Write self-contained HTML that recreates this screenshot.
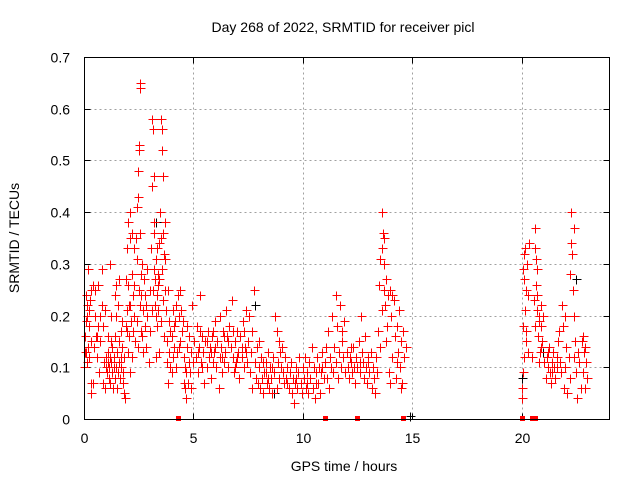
<!DOCTYPE html>
<html><head><meta charset="utf-8"><style>
html,body{margin:0;padding:0;background:#fff;}
svg{display:block;font-family:"Liberation Sans",sans-serif;}
</style></head><body>
<svg id="chart" width="640" height="480" viewBox="0 0 640 480" xmlns="http://www.w3.org/2000/svg">
<rect width="640" height="480" fill="#fff"/>
<text x="343" y="32" font-size="14" text-anchor="middle">Day 268 of 2022, SRMTID for receiver picl</text>
<text transform="translate(19,238) rotate(-90)" font-size="14" text-anchor="middle">SRMTID / TECUs</text>
<text x="344" y="471" font-size="14" text-anchor="middle">GPS time / hours</text>
<g id="grid"></g>
<g id="ticks" shape-rendering="crispEdges"></g>
<g id="black" shape-rendering="crispEdges"></g>
<g id="red" shape-rendering="crispEdges"></g>
<rect x="84.5" y="57.5" width="525" height="362" fill="none" stroke="#000" stroke-width="1" shape-rendering="crispEdges"/>
</svg>
<script>
const xTicks = [0,5,10,15,20];
const yTicks = [0,0.1,0.2,0.3,0.4,0.5,0.6,0.7];
const yTickLabels = ["0","0.1","0.2","0.3","0.4","0.5","0.6","0.7"];
const redTimes = [0.02,0.05,0.08,0.1,0.12,0.15,0.18,0.2,0.22,0.25,0.27,0.3,0.32,0.05,0.1,0.15,0.2,0.25,0.3,0.33,
0.4,0.45,0.5,0.55,0.6,0.62,0.65,0.7,0.72,0.75,0.8,0.82,0.85,0.88,0.9,0.95,0.98,0.4,0.5,0.6,
1.0,1.02,1.05,1.08,1.1,1.12,1.15,1.18,1.2,1.22,1.25,1.28,1.3,1.32,1.35,1.38,1.4,1.42,1.45,1.48,1.5,1.52,1.55,1.58,1.6,1.62,1.65,1.68,1.7,1.72,1.75,1.78,1.8,1.82,1.85,1.88,1.1,1.25,1.4,1.55,1.7,1.2,1.45,
1.9,1.92,1.95,1.98,2.0,2.02,2.05,2.08,2.1,2.12,2.15,2.18,2.2,2.22,2.25,2.28,2.3,2.32,2.0,2.1,2.2,2.3,1.95,2.05,
2.38,2.4,2.42,2.45,2.48,2.5,2.52,2.55,2.56,2.58,2.6,2.62,2.65,2.68,2.4,2.5,2.6,2.45,2.55,2.65,2.7,
2.75,2.8,2.85,2.9,2.95,3.0,3.05,3.1,3.12,3.15,3.18,3.2,3.22,3.25,3.28,3.3,3.32,3.35,3.38,3.4,3.42,3.45,3.48,3.5,3.52,3.55,3.58,3.6,3.62,3.65,3.68,3.7,3.0,3.1,3.2,3.3,3.4,3.5,3.6,3.7,2.8,2.9,3.15,3.35,3.55,3.65,3.45,3.25,2.85,
3.75,3.78,3.8,3.85,3.88,3.9,3.95,4.0,4.05,4.08,4.1,4.15,4.2,4.25,4.3,4.35,4.4,3.82,3.92,4.02,4.12,4.22,4.32,4.38,
4.45,4.5,4.55,4.58,4.6,4.62,4.65,4.68,4.7,4.75,4.78,4.8,4.85,4.9,4.95,5.0,4.52,4.72,4.88,
5.05,5.1,5.15,5.2,5.25,5.3,5.35,5.4,5.45,5.5,5.55,5.6,5.65,5.7,5.75,5.8,5.85,5.9,5.95,6.0,6.05,6.1,6.15,6.2,6.25,6.3,6.35,6.4,6.45,6.5,6.55,6.6,6.65,6.7,6.75,6.8,6.85,6.9,6.95,7.0,7.05,7.1,7.15,7.2,7.25,7.3,7.35,7.4,7.45,7.5,5.2,5.4,5.6,5.8,6.0,6.2,6.4,6.6,6.8,7.0,7.2,7.4,5.3,5.9,6.3,6.9,7.3,
7.55,7.6,7.65,7.7,7.75,7.8,7.85,7.9,7.95,8.0,8.05,8.1,8.15,8.2,8.25,8.3,8.35,8.4,8.45,8.5,8.55,8.6,8.65,8.7,8.75,8.8,8.85,8.9,8.95,9.0,7.7,8.0,8.3,8.6,8.9,8.2,8.4,8.8,
9.05,9.1,9.15,9.2,9.25,9.3,9.35,9.4,9.45,9.5,9.55,9.6,9.65,9.7,9.75,9.8,9.85,9.9,9.95,10.0,10.05,10.1,10.15,10.2,10.25,10.3,10.35,10.4,10.45,10.5,10.55,10.6,10.65,10.7,10.75,10.8,10.85,10.9,10.95,11.0,9.3,9.7,10.2,10.6,10.9,
11.05,11.1,11.15,11.2,11.25,11.3,11.35,11.4,11.45,11.5,11.55,11.6,11.65,11.7,11.75,11.8,11.85,11.9,11.95,12.0,12.05,12.1,12.15,12.2,12.25,12.3,12.35,12.4,12.45,12.5,12.55,12.6,12.65,12.7,12.75,12.8,12.85,12.9,12.95,13.0,13.05,13.1,13.15,13.2,13.25,13.3,13.35,13.4,11.5,11.8,12.2,12.6,13.0,
13.45,13.5,13.55,13.6,13.62,13.65,13.7,13.72,13.75,13.8,13.85,13.9,13.95,14.0,14.05,14.1,14.15,14.2,14.25,14.3,14.35,14.4,14.45,14.5,14.55,14.6,14.65,14.7,13.6,13.8,14.0,14.3,14.5,13.55,13.7,14.1,
20.0,20.02,20.05,20.08,20.1,20.12,20.15,20.18,20.2,20.22,20.25,20.28,20.3,20.32,20.1,20.2,20.05,
20.5,20.55,20.6,20.62,20.65,20.68,20.7,20.72,20.75,20.78,20.8,20.82,20.85,20.88,20.9,20.95,21.0,20.6,20.7,20.9,
21.05,21.1,21.15,21.2,21.25,21.3,21.35,21.4,21.45,21.5,21.55,21.6,21.65,21.7,21.75,21.8,21.2,21.4,21.6,
21.85,21.9,21.95,22.0,22.05,22.1,22.15,22.2,22.25,22.28,22.3,22.35,22.38,22.4,22.45,22.5,22.55,22.6,22.65,22.7,22.0,22.2,22.4,
22.75,22.8,22.85,22.9,22.95,23.0,22.8,22.9];
const redValues = [.10,.16,.24,.13,.20,.22,.14,.29,.18,.12,.23,.15,.07,.13,.19,.11,.14,.21,.25,.05,
.26,.14,.25,.16,.12,.26,.18,.09,.20,.15,.29,.22,.07,.18,.11,.21,.06,.07,.20,.16,
.10,.12,.09,.11,.13,.08,.10,.12,.07,.15,.11,.09,.14,.06,.10,.12,.16,.08,.10,.20,.13,.06,.09,.11,.27,.15,.08,.12,.10,.19,.14,.07,.09,.05,.12,.04,.16,.20,.24,.22,.17,.30,.26,
.18,.27,.33,.21,.38,.26,.16,.35,.22,.40,.19,.28,.36,.17,.24,.33,.20,.15,.13,.09,.12,.26,.17,.22,
.35,.31,.41,.43,.48,.52,.53,.65,.64,.36,.28,.24,.30,.21,.19,.25,.17,.14,.22,.16,.13,
.27,.18,.22,.29,.11,.25,.33,.45,.58,.56,.47,.38,.36,.27,.20,.31,.24,.18,.28,.21,.13,.27,.40,.35,.58,.56,.52,.47,.36,.32,.38,.25,.17,.21,.29,.12,.26,.19,.23,.31,.24,.20,.25,.33,.29,.16,.34,.22,.14,
.21,.11,.15,.07,.19,.13,.10,.16,.21,.12,.14,.19,.10,.13,.24,.20,.15,.25,.17,.09,.18,.22,.14,.25,
.21,.17,.07,.12,.06,.10,.04,.09,.14,.07,.11,.16,.09,.13,.22,.11,.19,.18,.06,
.15,.12,.18,.09,.14,.24,.11,.16,.13,.07,.15,.10,.17,.12,.14,.08,.16,.11,.13,.19,.10,.15,.06,.20,.14,.12,.17,.11,.13,.21,.16,.10,.18,.14,.23,.12,.09,.15,.11,.17,.13,.08,.16,.12,.19,.10,.14,.21,.11,.15,.13,.10,.15,.13,.14,.12,.16,.15,.17,.12,.14,.13,.17,.17,.09,.10,.17,
.20,.09,.13,.17,.25,.11,.08,.14,.07,.10,.06,.12,.08,.05,.09,.11,.07,.13,.06,.10,.08,.05,.12,.09,.20,.17,.11,.08,.13,.10,.06,.15,.09,.10,.15,.11,.08,.06,
.14,.09,.07,.12,.08,.10,.06,.09,.11,.05,.08,.03,.07,.10,.06,.09,.12,.07,.05,.10,.08,.12,.06,.09,.05,.11,.08,.14,.06,.10,.04,.09,.12,.07,.10,.05,.09,.13,.08,.11,.07,.08,.07,.07,.10,
.14,.08,.17,.06,.12,.10,.20,.09,.14,.11,.18,.08,.13,.22,.10,.15,.12,.19,.09,.13,.10,.08,.12,.11,.09,.14,.10,.07,.12,.10,.15,.09,.20,.13,.11,.08,.16,.10,.07,.12,.09,.13,.06,.10,.08,.05,.12,.09,.24,.17,.14,.11,.11,
.17,.26,.14,.33,.40,.36,.30,.35,.22,.27,.18,.24,.09,.25,.20,.12,.23,.16,.08,.18,.13,.21,.10,.15,.07,.17,.12,.14,.21,.15,.07,.11,.06,.31,.25,.24,
.04,.06,.09,.18,.27,.32,.33,.21,.25,.15,.30,.24,.13,.34,.12,.17,.29,
.12,.23,.37,.33,.31,.26,.29,.21,.16,.19,.11,.20,.13,.22,.18,.15,.20,.18,.24,.14,
.11,.08,.12,.10,.14,.09,.07,.11,.13,.10,.08,.12,.15,.17,.11,.09,.13,.09,.10,
.22,.18,.06,.10,.14,.05,.12,.28,.34,.40,.32,.25,.37,.20,.15,.09,.04,.13,.11,.06,.20,.08,.12,
.15,.09,.13,.06,.11,.08,.16,.14];
const blackTimes = [2.55,3.3,7.8,8.7,20.0,21.0,22.5,14.9];
const blackValues = [0.65,0.38,0.22,0.05,0.08,0.13,0.27,0.005];
const zeroTimes = [4.3,11.0,12.5,14.6,20.0,20.5,20.62];

const X0=84.5, X1=609.5, Y0=419.5, Y1=57.5, XMAX=24, YMAX=0.7;
function xs(t){return X0+(X1-X0)*t/XMAX;}
function ys(v){return Y0-(Y0-Y1)*v/YMAX;}
const NS="http://www.w3.org/2000/svg";
function mk(tag,attrs,parent){const e=document.createElementNS(NS,tag);for(const k in attrs)e.setAttribute(k,attrs[k]);parent.appendChild(e);return e;}
const grid=document.getElementById('grid'), ticks=document.getElementById('ticks');
xTicks.forEach((t,i)=>{
  const x=Math.floor(xs(t))+0.5;
  if(t>0){const g=mk('line',{x1:x,x2:x,y1:Y1,y2:Y0,stroke:'#a0a0a0','stroke-dasharray':'2,3'},grid);
  
  }
  mk('line',{x1:x,x2:x,y1:Y0,y2:Y0-6,stroke:'#000'},ticks);
  mk('line',{x1:x,x2:x,y1:Y1,y2:Y1+6,stroke:'#000'},ticks);
  const l=mk('text',{x:x,y:443,'font-size':14,'text-anchor':'middle'},ticks);
  
  
  l.textContent=String(t);
});
yTicks.forEach((v,i)=>{
  const y=Math.floor(ys(v))+0.5;
  if(v>0&&v<0.7){const g=mk('line',{x1:X0,x2:X1,y1:y,y2:y,stroke:'#a0a0a0','stroke-dasharray':'2,3'},grid);
  
  }
  mk('line',{x1:X0,x2:X0+6,y1:y,y2:y,stroke:'#000'},ticks);
  mk('line',{x1:X1,x2:X1-6,y1:y,y2:y,stroke:'#000'},ticks);
  const l=mk('text',{x:70,y:y+5,'font-size':14,'text-anchor':'end'},ticks);
  
  
  l.textContent=yTickLabels[i];
});
function plus(parent,t,v,color){
  const x=Math.floor(xs(t))+0.5, y=Math.floor(ys(v))+0.5;
  return mk('path',{d:`M${x-4} ${y}H${x+5}M${x} ${y-4}V${y+5}`,stroke:color,'stroke-width':1,fill:'none'},parent);
}
const blk=document.getElementById('black'), red=document.getElementById('red');
blackTimes.forEach((t,i)=>{
  const p=plus(blk,t,blackValues[i],'#000');
  
  
});
redTimes.forEach((t,i)=>{
  const p=plus(red,t,redValues[i],'#ff0000');
  
  
});
zeroTimes.forEach(t=>{
  const r=mk('rect',{x:Math.floor(xs(t))-2,y:Y0-3.5,width:5,height:5,fill:'#ff0000'},red);
  
  
});
</script>
</body></html>
